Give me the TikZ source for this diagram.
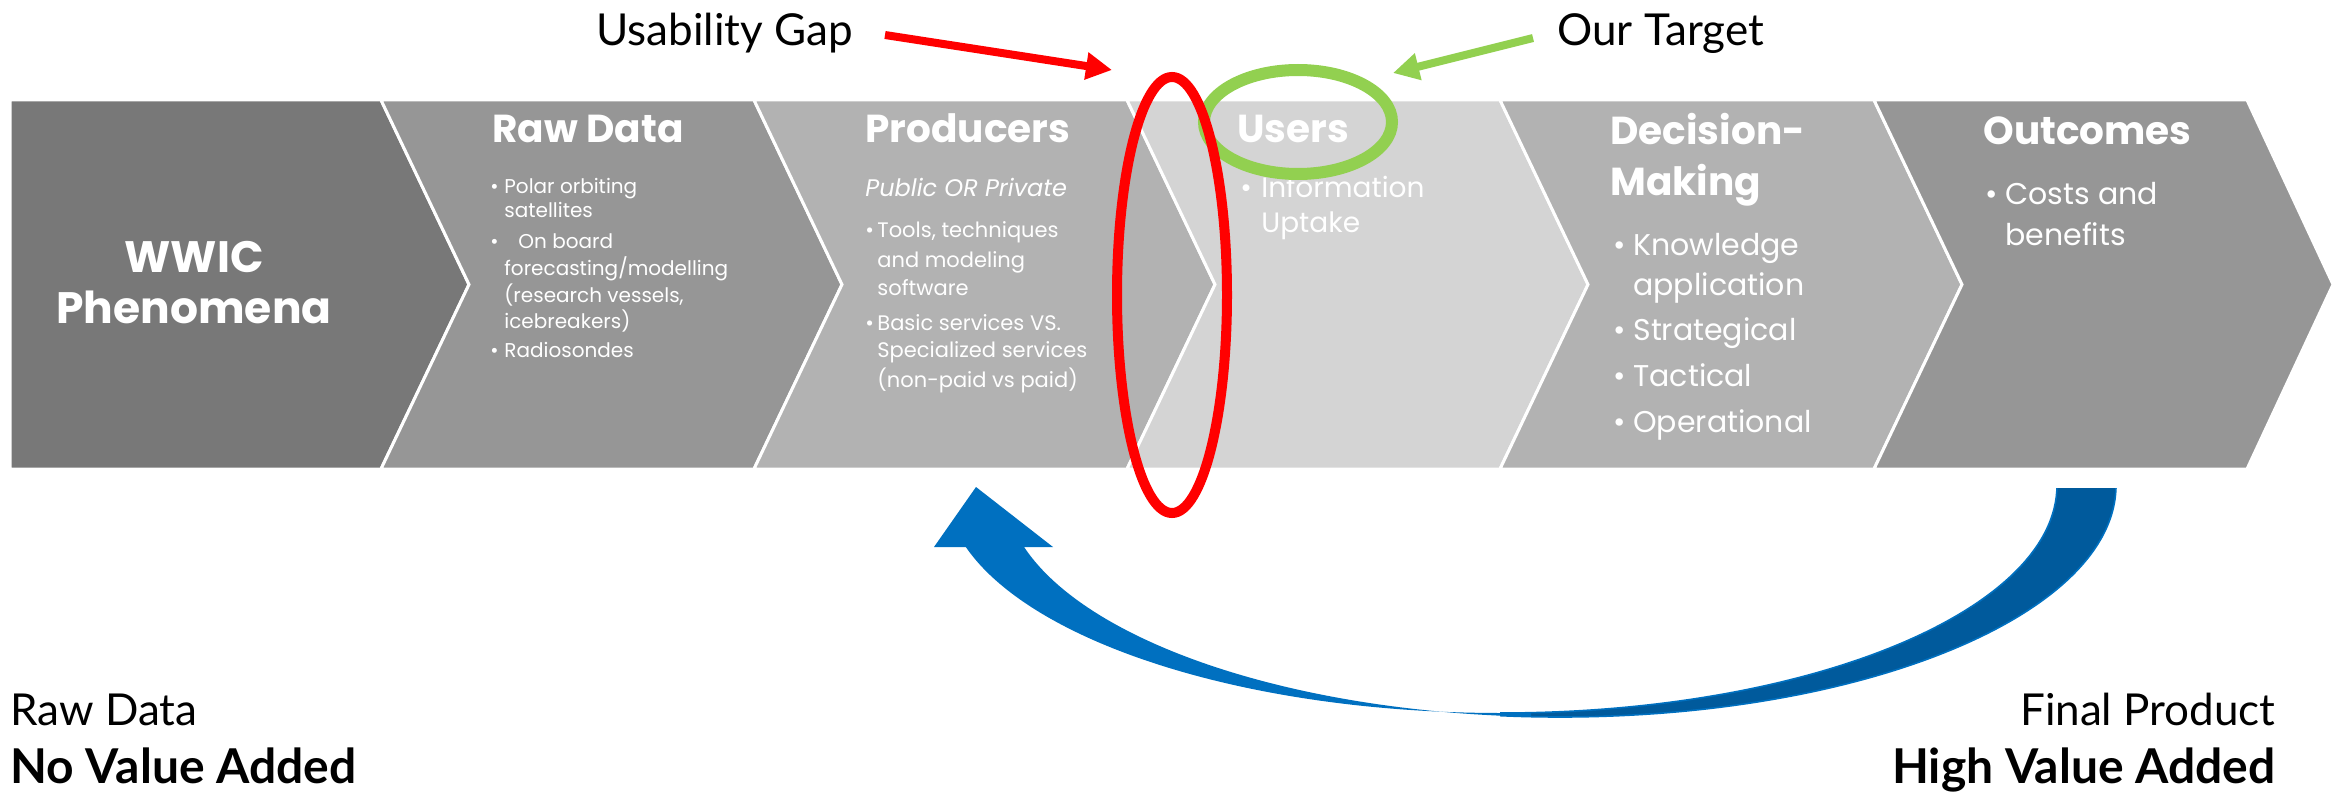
\documentclass[tikz,border=0pt]{standalone}
\usepackage{fontspec}
\setmainfont{Poppins}
\newfontfamily\gill{Lato}
\usetikzlibrary{arrows.meta}
\definecolor{cA}{HTML}{787878}
\definecolor{cB}{HTML}{969696}
\definecolor{cC}{HTML}{B2B2B2}
\definecolor{cD}{HTML}{D4D4D4}
\definecolor{bdark}{HTML}{005A9C}
\definecolor{blight}{HTML}{0070C0}
\definecolor{gapred}{HTML}{FF0000}
\definecolor{tgtgreen}{HTML}{92D050}
\begin{document}
\begin{tikzpicture}[x=0.5pt,y=-0.5pt,
  seg/.style={draw=white,line width=1.5pt},
  hdr/.style={anchor=base west,inner sep=0pt,text=white,font=\bfseries\fontsize{19.5}{24}\selectfont},
  big/.style={anchor=base,inner sep=0pt,text=white,font=\bfseries\fontsize{22}{26}\selectfont},
  rd/.style={anchor=base west,inner sep=0pt,text=white,font=\fontsize{10}{12}\selectfont},
  pr/.style={anchor=base west,inner sep=0pt,text=white,font=\fontsize{10.5}{13}\selectfont},
  us/.style={anchor=base west,inner sep=0pt,text=white,font=\fontsize{14}{16}\selectfont},
  dm/.style={anchor=base west,inner sep=0pt,text=white,font=\fontsize{15}{18}\selectfont},
  lab/.style={anchor=base west,inner sep=0pt,text=black,font=\gill\fontsize{22}{26}\selectfont},
  labr/.style={anchor=base east,inner sep=0pt,text=black,font=\gill\fontsize{22}{26}\selectfont},
  labl/.style={anchor=base west,inner sep=0pt,text=black,font=\gill\fontsize{22}{26}\selectfont},
  boldlab/.style={font=\gill\bfseries\fontsize{24}{28}\selectfont},
  pointer/.style={line width=4pt,-{Triangle[length=13pt,width=13pt]}},
  ring/.style={line width=5pt}]
\useasboundingbox (0,0) rectangle (2341,792);
% chevron band
\fill[cA,seg] (10,100) -- (381,100) -- (469,284.5) -- (381,469) -- (10,469) -- cycle;
\fill[cB,seg] (381,100) -- (754,100) -- (842,284.5) -- (754,469) -- (381,469) -- (469,284.5) -- cycle;
\fill[cC,seg] (754,100) -- (1127,100) -- (1215,284.5) -- (1127,469) -- (754,469) -- (842,284.5) -- cycle;
\fill[cD,seg] (1127,100) -- (1500,100) -- (1588,284.5) -- (1500,469) -- (1127,469) -- (1215,284.5) -- cycle;
\fill[cC,seg] (1500,100) -- (1874,100) -- (1962,284.5) -- (1874,469) -- (1500,469) -- (1588,284.5) -- cycle;
\fill[cB,seg] (1874,100) -- (2247,100) -- (2333,284.5) -- (2247,469) -- (1874,469) -- (1962,284.5) -- cycle;
% WWIC
\node[big] (w1) at (194,272) {WWIC};
\node[big] (w2) at (194,323) {Phenomena};
% Raw data
\node[hdr] (rdh) at (492,143) {Raw Data};
\node[rd] (rb1) at (490,193) {•};
\node[rd] (r1) at (504,193) {Polar orbiting};
\node[rd] (r2) at (504,218) {satellites};
\node[rd] (rb2) at (490,249) {•};
\node[rd] (r3) at (518,249) {On board};
\node[rd] (r4) at (504,275) {forecasting/modelling};
\node[rd] (r5) at (504,302) {(research vessels,};
\node[rd] (r6) at (504,328) {icebreakers)};
\node[rd] (rb3) at (490,357) {•};
\node[rd] (r7) at (504,357) {Radiosondes};
% Producers
\node[hdr] (prh) at (865,143) {Producers};
\node[pr,font=\itshape\fontsize{12}{14}\selectfont] (pp) at (865,197) {Public OR Private};
\node[pr] (pb1) at (865,237) {•};
\node[pr] (p1) at (877,237) {Tools, techniques};
\node[pr] (p2) at (877,267) {and modeling};
\node[pr] (p3) at (877,295) {software};
\node[pr] (pb2) at (865,330) {•};
\node[pr] (p4) at (877,330) {Basic services VS.};
\node[pr] (p5) at (877,357) {Specialized services};
\node[pr] (p6) at (877,387) {(non-paid vs paid)};
% Users
\node[hdr] (ush) at (1237,142) {Users};
\node[us] (ub1) at (1240,198) {•};
\node[us] (u1) at (1261,198) {Information};
\node[us] (u2) at (1261,232) {Uptake};
% Decision-Making
\node[hdr] (dh1) at (1610,145) {Decision-};
\node[hdr] (dh2) at (1610,195) {Making};
\node[dm] (db1) at (1613,255) {•};
\node[dm] (d1) at (1633,255) {Knowledge};
\node[dm] (d2) at (1633,295) {application};
\node[dm] (db2) at (1613,340) {•};
\node[dm] (d3) at (1633,340) {Strategical};
\node[dm] (db3) at (1613,386) {•};
\node[dm] (d4) at (1633,386) {Tactical};
\node[dm] (db4) at (1613,432) {•};
\node[dm] (d5) at (1633,432) {Operational};
% Outcomes
\node[hdr] (oh) at (1983,145) {Outcomes};
\node[dm] (ob1) at (1985,205) {•};
\node[dm] (o1) at (2005,205) {Costs and};
\node[dm] (o2) at (2005,245) {benefits};
% blue feedback arrow
\begin{scope}
  \clip (1500,488) rectangle (2341,792);
  \fill[bdark,draw=blight,line width=0.8pt,even odd rule]
    (1501,485) ellipse [x radius=556,y radius=228]
    (1560,485) ellipse [x radius=556,y radius=232];
\end{scope}
\begin{scope}
  \clip (0,547) rectangle (1531,792);
  \fill[blight,even odd rule]
    (1501,485) ellipse [x radius=556,y radius=228]
    (1560,485) ellipse [x radius=556,y radius=232];
\end{scope}
\fill[blight] (976,487) -- (934,547) -- (1053,547) -- cycle;
% rings
\draw[tgtgreen,line width=6pt] (1298,122) ellipse [x radius=94,y radius=52];
\draw[gapred,ring] (1172,295) ellipse [x radius=55,y radius=218];
% annotations
\node[lab] (ug) at (596,46) {Usability Gap};
\node[lab] (ot) at (1557,46) {Our Target};
\coordinate (ugs) at (885,35);
\coordinate (uge) at (1112,70);
\coordinate (ots) at (1533,38);
\coordinate (ote) at (1393,73);
\draw[pointer,gapred] (ugs) -- (uge);
\draw[pointer,tgtgreen] (ots) -- (ote);
% bottom labels
\node[labl] (rw) at (10,725) {Raw Data};
\node[labl,boldlab] (nv) at (10,783) {No Value Added};
\node[labr] (fp) at (2276,725) {Final Product};
\node[labr,boldlab] (hv) at (2276,783) {High Value Added};
\end{tikzpicture}
\end{document}
